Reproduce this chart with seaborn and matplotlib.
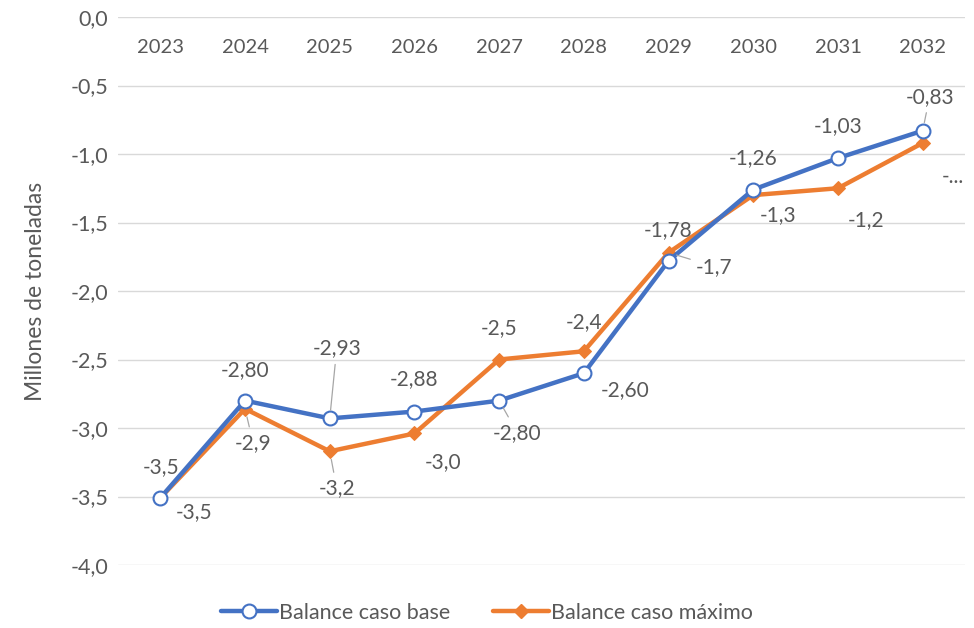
import numpy as np
import pandas as pd
import seaborn as sns
import matplotlib
matplotlib.use("Agg")
import matplotlib.pyplot as plt
from matplotlib.lines import Line2D
from matplotlib.ticker import FuncFormatter, FixedLocator

# ---- data ----
years = ['2023', '2024', '2025', '2026', '2027', '2028', '2029', '2030', '2031', '2032']
base = [-3.51, -2.80, -2.93, -2.88, -2.80, -2.60, -1.78, -1.26, -1.03, -0.83]
maximo = [-3.51, -2.86, -3.17, -3.04, -2.50, -2.44, -1.72, -1.30, -1.25, -0.92]
base_labels = ['-3,5', '-2,80', '-2,93', '-2,88', '-2,80', '-2,60', '-1,78', '-1,26', '-1,03', '-0,83']
max_labels = ['-3,5', '-2,9', '-3,2', '-3,0', '-2,5', '-2,4', '-1,7', '-1,3', '-1,2', '-...']
series_names = ['Balance caso base', 'Balance caso máximo']

# ---- label placement (pixel offsets) ----
base_off = [(1, 31), (0, 31), (7, 70), (0, 32), (18, -32), (41, -17), (0, 31), (0, 32), (0, 32), (7, 34)]
base_leader = [False, False, True, False, True, False, False, False, False, True]
max_off = [(34, -14), (8, -34), (7, -37), (29, -29), (0, 31), (0, 29), (46, -14), (25, -20), (28, -32), (30, -34)]
max_leader = [False, True, True, False, False, False, True, False, False, False]

BLUE = '#4472C4'
ORANGE = '#ED7D31'
GRAY = '#595959'
FS = 15

sns.set_theme(style='white')
plt.rcParams['font.family'] = ['Lato', 'DejaVu Sans']

fig = plt.figure(figsize=(9.74, 6.28), dpi=100)
W, H = 974, 628
ax = fig.add_axes([118 / W, 1 - 565 / H, (965 - 118) / W, (565 - 17) / H])

df = pd.DataFrame({'x': np.arange(len(years)), 'base': base, 'max': maximo})

sns.lineplot(data=df, x='x', y='base', ax=ax, color=BLUE, lw=3.2, marker='o',
             markersize=10, markerfacecolor='white', markeredgecolor=BLUE,
             markeredgewidth=1.5, zorder=4)
sns.lineplot(data=df, x='x', y='max', ax=ax, color=ORANGE, lw=3.2, marker='D',
             markersize=7.5, markerfacecolor=ORANGE, markeredgecolor=ORANGE, zorder=3)

ax.set_xlim(-0.5, len(years) - 0.5)
ax.set_ylim(-4.0, 0.0)
ax.yaxis.set_major_locator(FixedLocator(np.arange(-4.0, 0.01, 0.5)))
ax.yaxis.set_major_formatter(FuncFormatter(lambda v, p: f"{v:.1f}".replace('.', ',').replace('-0,0', '0,0')))
ax.grid(axis='y', color='#d9d9d9', lw=1)
ax.grid(axis='x', visible=False)
for s in ax.spines.values():
    s.set_visible(False)

ax.xaxis.tick_top()
ax.set_xticks(np.arange(len(years)))
ax.set_xticklabels(years)
ax.tick_params(axis='x', length=0, pad=-16, labelsize=14.5, labelcolor=GRAY)
for lbl in ax.get_xticklabels():
    lbl.set_va('top')
ax.tick_params(axis='y', length=0, pad=7, labelsize=15.5, labelcolor=GRAY)

ax.set_xlabel('')
ax.set_ylabel('Millones de toneladas', fontsize=16.5, color=GRAY, va='center')
ax.yaxis.set_label_coords((36 - 118) / (965 - 118), 0.5)

def put_labels(vals, labels, offs, leaders):
    for i, (v, t, o, ld) in enumerate(zip(vals, labels, offs, leaders)):
        kw = dict(textcoords='offset pixels', ha='center', va='center',
                  fontsize=FS, color=GRAY, zorder=6)
        if ld:
            kw['arrowprops'] = dict(arrowstyle='-', color='#a6a6a6', lw=0.9,
                                    shrinkA=2, shrinkB=6)
        ax.annotate(t, xy=(i, v), xytext=o, **kw)

put_labels(base, base_labels, base_off, base_leader)
put_labels(maximo, max_labels, max_off, max_leader)

handles = [
    Line2D([], [], color=BLUE, lw=3.2, marker='o', markersize=10,
           markerfacecolor='white', markeredgecolor=BLUE, markeredgewidth=1.5),
    Line2D([], [], color=ORANGE, lw=3.2, marker='D', markersize=7.5),
]
leg = fig.legend(handles, series_names, loc='center', bbox_to_anchor=(0.5, 1 - 613 / H),
                 ncol=2, frameon=False, fontsize=15.5, handlelength=2.6,
                 handletextpad=0.1, columnspacing=2.0)
for t in leg.get_texts():
    t.set_color(GRAY)

fig.savefig('out.png', dpi=100)
